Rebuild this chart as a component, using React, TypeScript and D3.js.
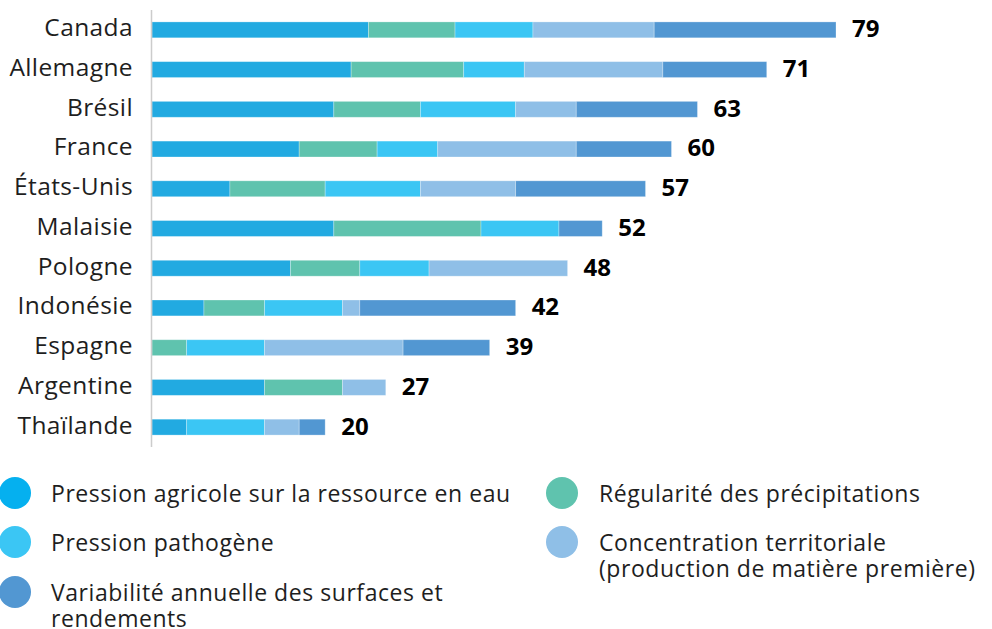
import React from "react";
import * as d3 from "d3";

const countries = ["Canada", "Allemagne", "Brésil", "France", "États-Unis", "Malaisie", "Pologne", "Indonésie", "Espagne", "Argentine", "Thaïlande"];
const seriesNames = [
  "Pression agricole sur la ressource en eau",
  "Régularité des précipitations",
  "Pression pathogène",
  "Concentration territoriale (production de matière première)",
  "Variabilité annuelle des surfaces et rendements",
];
const pressionAgricole = [25, 23, 21, 17, 9, 21, 16, 6, 0, 13, 4];
const regularite = [10, 13, 10, 9, 11, 17, 8, 7, 4, 9, 0];
const pathogene = [9, 7, 11, 7, 11, 9, 8, 9, 9, 0, 9];
const concentration = [14, 16, 7, 16, 11, 0, 16, 2, 16, 5, 4];
const variabilite = [21, 12, 14, 11, 15, 5, 0, 18, 10, 0, 3];
const totals = [79, 71, 63, 60, 57, 52, 48, 42, 39, 27, 20];

const barColors = ["#22aae1", "#5fc3ae", "#3bc6f4", "#8fbfe7", "#5297d2"];
const legendColors = ["#05b0ef", "#5fc3ae", "#3bc6f4", "#8fbfe7", "#5297d2"];

export default function App() {
  const width = 992;
  const height = 629;
  const x0 = 152;
  const x = d3.scaleLinear().domain([0, 79]).range([x0, 836]);
  const y = d3.scaleBand().domain(countries).range([10, 447]).paddingInner(0.6).paddingOuter(0.3);
  const keys = ["0", "1", "2", "3", "4"];
  const table = countries.map((c, i) => {
    const vals = [pressionAgricole[i], regularite[i], pathogene[i], concentration[i], variabilite[i]];
    const o: any = { country: c };
    vals.forEach((v, k) => (o[String(k)] = v));
    return o;
  });
  const stack = d3.stack<any>().keys(keys)(table);
  const font = "'Open Sans', sans-serif";

  const legendItems = [
    { s: 0, cx: 15, cy: 493, tx: 51, lines: ["Pression agricole sur la ressource en eau"] },
    { s: 2, cx: 15, cy: 542, tx: 51, lines: ["Pression pathogène"] },
    { s: 4, cx: 15, cy: 592, tx: 51, lines: ["Variabilité annuelle des surfaces et", "rendements"] },
    { s: 1, cx: 562, cy: 493, tx: 599, lines: ["Régularité des précipitations"] },
    { s: 3, cx: 562, cy: 542, tx: 599, lines: ["Concentration territoriale", "(production de matière première)"] },
  ];

  return (
    <svg width={width} height={height} style={{ position: "absolute", left: 0, top: 0, fontFamily: font }}>
      {stack.map((layer, k) => (
        <g key={k} fill={barColors[k]}>
          {layer.map((d, i) =>
            d[1] - d[0] > 0 ? (
              <rect
                key={i}
                x={x(d[0])}
                y={y(countries[i])!}
                width={x(d[1]) - x(d[0])}
                height={y.bandwidth()}
                stroke="#ffffff"
                strokeOpacity={0.35}
                strokeWidth={0.8}
              />
            ) : null
          )}
        </g>
      ))}
      <line x1={x0 - 0.5} x2={x0 - 0.5} y1={10} y2={447} stroke="#cccccc" strokeWidth={1.5} />
      {countries.map((c) => (
        <text
          key={c}
          x={133}
          y={y(c)! + y.bandwidth() - 1.5}
          textAnchor="end"
          fontSize={24.5}
          letterSpacing={0.4}
          fill="#1e1e1e"
        >
          {c}
        </text>
      ))}
      {countries.map((c, i) => (
        <text
          key={"v" + c}
          x={x(totals[i]) + 16}
          y={y(c)! + y.bandwidth() - 0.5}
          fontSize={24}
          fontWeight={700}
          fill="#000000"
        >
          {totals[i]}
        </text>
      ))}
      {legendItems.map((it) => (
        <g key={it.s}>
          <circle cx={it.cx} cy={it.cy} r={16} fill={legendColors[it.s]} />
          {it.lines.map((l, j) => (
            <text
              key={j}
              x={it.tx}
              y={it.cy + 9 + j * 25.5}
              fontSize={23}
              letterSpacing={0.55}
              fill="#1e1e1e"
            >
              {l}
            </text>
          ))}
        </g>
      ))}
    </svg>
  );
}
